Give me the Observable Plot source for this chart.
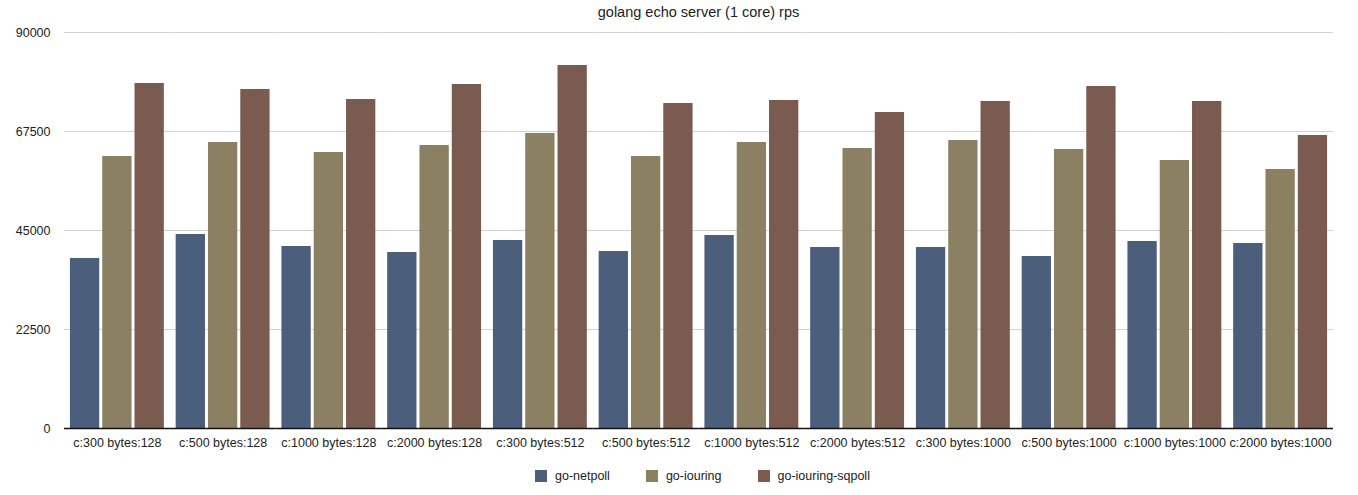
<!DOCTYPE html>
<html>
<head>
<meta charset="utf-8">
<script src="https://cdn.jsdelivr.net/npm/d3@7"></script>
<script src="https://cdn.jsdelivr.net/npm/@observablehq/plot@0.6"></script>
<style>
  html, body { margin: 0; padding: 0; background: #fff; }
  body { width: 1358px; height: 495px; position: relative; font-family: "Liberation Sans", Arial, Helvetica, sans-serif; color: #222; }
  #title { position: absolute; left: 64px; width: 1269px; top: 0; height: 24px; line-height: 24px; text-align: center; font-size: 14.5px; }
  #chart { position: absolute; left: 0; top: 24px; }
  #legend { position: absolute; top: 469px; left: 535px; display: flex; align-items: center; font-size: 12.5px; }
  #legend .item { display: flex; align-items: center; margin-right: 36px; }
  #legend .sw { width: 12px; height: 12px; margin-right: 8px; }
</style>
</head>
<body>
<div id="title"></div>
<div id="chart"></div>
<div id="legend"></div>
<script>
const title = "golang echo server (1 core) rps";
const groups = ["c:300 bytes:128","c:500 bytes:128","c:1000 bytes:128","c:2000 bytes:128","c:300 bytes:512","c:500 bytes:512","c:1000 bytes:512","c:2000 bytes:512","c:300 bytes:1000","c:500 bytes:1000","c:1000 bytes:1000","c:2000 bytes:1000"];
const series = ["go-netpoll","go-iouring","go-iouring-sqpoll"];
const colors = ["#4b5e7b","#8c8062","#7b5a50"];
const netpoll = [38640,44090,41360,40000,42730,40230,43860,41140,41140,39090,42500,42050];
const iouring = [61820,65000,62730,64320,67050,61820,65000,63640,65450,63410,60910,58860];
const sqpoll  = [78410,77050,74770,78180,82500,73860,74550,71820,74320,77730,74320,66590];
const yTicks = [0,22500,45000,67500,90000];

const seriesValues = [netpoll, iouring, sqpoll];
const rows = [];
groups.forEach((g, i) => series.forEach((s, j) => rows.push({group: g, series: s, value: seriesValues[j][i]})));

document.getElementById("title").textContent = title;

const chart = Plot.plot({
  width: 1358,
  height: 440,
  marginTop: 8,
  marginLeft: 64,
  marginRight: 25,
  marginBottom: 36,
  style: {fontFamily: "'Liberation Sans', Arial, Helvetica, sans-serif", fontSize: "12.5px", color: "#222", background: "#fff"},
  fx: {domain: groups, padding: 0, round: false, axis: "bottom", tickSize: 0, tickPadding: 10, label: null},
  x: {domain: series, axis: null, round: false, paddingInner: 0.093, paddingOuter: 0.1835},
  y: {domain: [0, 90000], ticks: yTicks, tickFormat: d => String(d), tickSize: 0, tickPadding: 14, label: null},
  color: {domain: series, range: colors},
  marks: [
    Plot.ruleY(yTicks, {stroke: "#d2d2d2", strokeWidth: 1.2}),
    Plot.barY(rows, {fx: "group", x: "series", y: "value", fill: "series"}),
    Plot.ruleY([0], {stroke: "#111", strokeWidth: 1.3})
  ]
});
document.getElementById("chart").appendChild(chart);

const legend = document.getElementById("legend");
series.forEach((s, j) => {
  const item = document.createElement("div");
  item.className = "item";
  const sw = document.createElement("div");
  sw.className = "sw";
  sw.style.background = colors[j];
  const label = document.createElement("span");
  label.textContent = s;
  item.appendChild(sw);
  item.appendChild(label);
  legend.appendChild(item);
});
</script>
</body>
</html>
